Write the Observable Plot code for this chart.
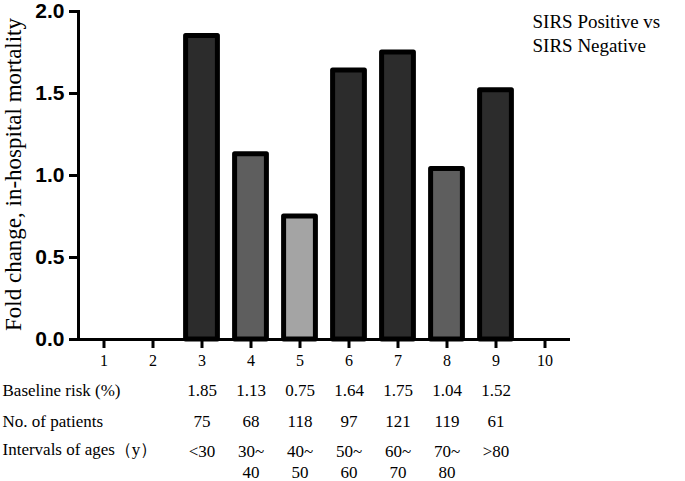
<!DOCTYPE html>
<html>
<head>
<meta charset="utf-8">
<script src="https://cdn.jsdelivr.net/npm/d3@7"></script>
<script src="https://cdn.jsdelivr.net/npm/@observablehq/plot@0.6"></script>
<style>
  html, body { margin: 0; padding: 0; background: #fff; }
  #chart svg { display: block; }
</style>
</head>
<body>
<div id="chart"></div>
<script>
// Data
const groups = [1, 2, 3, 4, 5, 6, 7, 8, 9, 10];
const barGroups = [3, 4, 5, 6, 7, 8, 9];
const foldChange = [1.85, 1.13, 0.75, 1.64, 1.75, 1.04, 1.52];
const barShade = ["dark", "mid", "light", "dark", "dark", "mid", "dark"];
const baselineRisk = ["1.85", "1.13", "0.75", "1.64", "1.75", "1.04", "1.52"];
const patients = ["75", "68", "118", "97", "121", "119", "61"];
const ageIntervals = ["<30", "30~\n40", "40~\n50", "50~\n60", "60~\n70", "70~\n80", ">80"];
const rowLabels = ["Baseline risk (%)", "No. of patients", "Intervals of ages\uFF08y\uFF09"];
const yTicks = [0, 0.5, 1.0, 1.5, 2.0];
const yLabel = "Fold change, in-hospital mortality";
const legendText = "SIRS Positive vs\nSIRS Negative";

const shadeColor = {dark: "#2c2c2c", mid: "#5e5e5e", light: "#a4a4a4"};

const bars = barGroups.map((g, i) => ({
  group: g, value: foldChange[i], color: shadeColor[barShade[i]],
  risk: baselineRisk[i], n: patients[i], age: ageIntervals[i]
}));

const serif = "'Liberation Serif', 'Times New Roman', serif";
const sans = "'Liberation Sans', Arial, sans-serif";
const rowDy = [56, 87, 113];

const chart = Plot.plot({
  width: 685,
  height: 481,
  marginLeft: 78,
  marginRight: 115,
  marginTop: 11,
  marginBottom: 142,
  style: {background: "#fff", overflow: "visible"},
  x: {type: "band", domain: groups, padding: 0, label: null},
  y: {domain: [0, 2], label: null},
  marks: [
    Plot.barY(bars, {
      x: "group", y: "value", fill: "color",
      stroke: "#000", strokeWidth: 5, strokeLinejoin: "round",
      insetLeft: 8.6, insetRight: 8.6
    }),
    Plot.axisY({
      ticks: yTicks, tickFormat: d3.format(".1f"), tickSize: 9, tickPadding: 5,
      fontSize: 21, fontWeight: "bold", fontFamily: sans, fill: "#000",
      stroke: "#000", strokeWidth: 3, label: null
    }),
    Plot.frame({anchor: "left", stroke: "#000", strokeWidth: 3}),
    Plot.ruleY([0], {stroke: "#000", strokeWidth: 3}),
    Plot.axisX({
      tickSize: 9, tickPadding: 6, fontSize: 16, fontFamily: serif,
      fill: "#000", stroke: "#000", strokeWidth: 3, label: null
    }),
    // y-axis title
    Plot.text([yLabel], {
      frameAnchor: "left", textAnchor: "middle", rotate: -90, dx: -65, dy: -1,
      fontSize: 23, fontFamily: serif, fill: "#000"
    }),
    // table rows
    Plot.text(bars, {
      x: "group", text: "risk", frameAnchor: "bottom", dy: rowDy[0],
      fontSize: 17, fontFamily: serif, fill: "#000"
    }),
    Plot.text(bars, {
      x: "group", text: "n", frameAnchor: "bottom", dy: rowDy[1],
      fontSize: 17, fontFamily: serif, fill: "#000"
    }),
    Plot.text(bars, {
      x: "group", text: "age", frameAnchor: "bottom", dy: rowDy[2] - 10,
      lineAnchor: "top", lineHeight: 1.22,
      fontSize: 17, fontFamily: serif, fill: "#000"
    }),
    Plot.text([rowLabels[0]], {
      frameAnchor: "bottom-left", dx: -76, dy: rowDy[0], textAnchor: "start",
      fontSize: 17, fontFamily: serif, fill: "#000"
    }),
    Plot.text([rowLabels[1]], {
      frameAnchor: "bottom-left", dx: -76, dy: rowDy[1], textAnchor: "start",
      fontSize: 17, fontFamily: serif, fill: "#000"
    }),
    Plot.text([rowLabels[2]], {
      frameAnchor: "bottom-left", dx: -76, dy: rowDy[2] + 2, textAnchor: "start",
      fontSize: 17, fontFamily: serif, fill: "#000"
    }),
    // legend note
    Plot.text([legendText], {
      frameAnchor: "top-right", dx: -38, dy: 0, textAnchor: "start",
      lineAnchor: "top", lineHeight: 1.25,
      fontSize: 19, fontFamily: serif, fill: "#000"
    })
  ]
});

document.getElementById("chart").appendChild(chart);
</script>
</body>
</html>
